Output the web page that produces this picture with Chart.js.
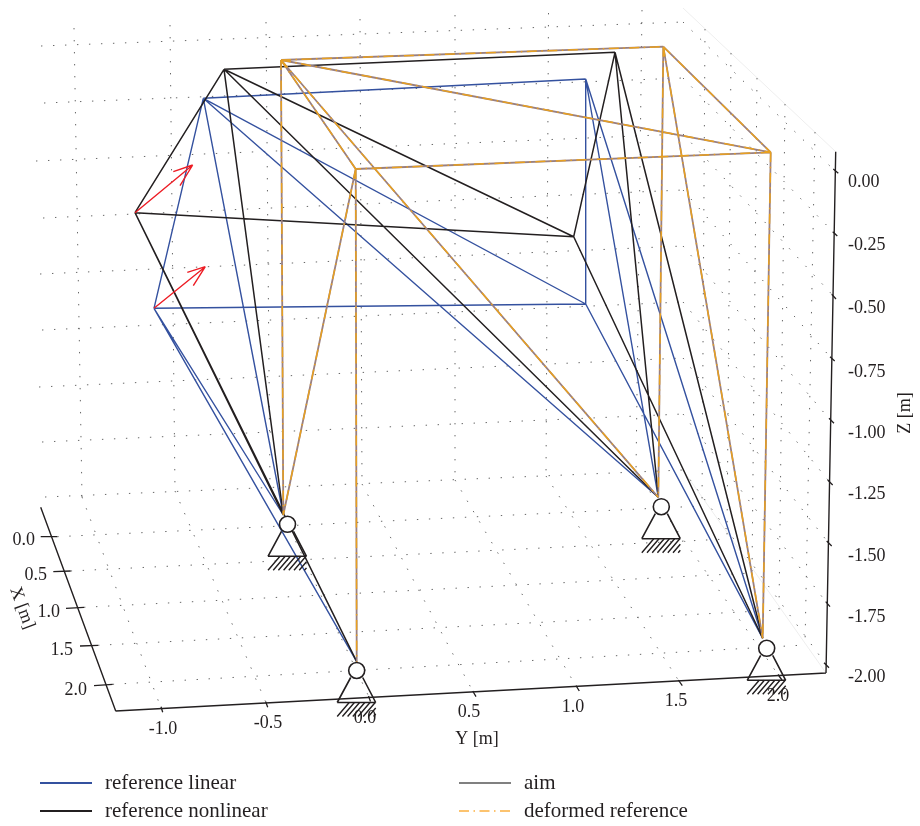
<!DOCTYPE html>
<html>
<head>
<meta charset="utf-8">
<title>Truss reference</title>
<script src="https://cdn.jsdelivr.net/npm/chart.js@4/dist/chart.umd.min.js"></script>
<style>
  html, body { margin: 0; padding: 0; background: #fff; }
  canvas { display: block; }
</style>
</head>
<body>
<canvas id="truss" width="920" height="826"></canvas>
<script>
// The source is a 3D view, so every value below is read off the picture
// in view units (a flat x/y space, 920 x 826, y downwards).

// four top nodes of each structure, in view units
const linearNodes = [[203.3, 98.3], [585.7, 79], [585.7, 304], [154, 308.3]];
const nonlinearNodes = [[224, 69.3], [615, 52.3], [573.7, 236.7], [135, 212.7]];
const aimNodes = [[281, 60], [663.3, 46.7], [770.7, 152.3], [355.7, 169]];
const deformedNodes = [[281, 60], [663.3, 46.7], [770.7, 152.3], [355.7, 169]];
// where the bars meet above each support
const barEnds = [[283.3, 515], [356.7, 661.7], [658.3, 497.3], [762.7, 638.3]];
// node index pairs: 0-3 top nodes, 4-7 bar ends
const members = [[0, 1], [1, 2], [2, 3], [3, 0], [0, 2], [0, 4], [3, 5], [3, 4], [1, 6], [1, 7], [2, 7], [0, 6]];

const supportCentres = [[287.5, 524.3], [356.7, 670.5], [661.3, 506.7], [766.7, 648.3]];

const loadArrows = [
  { from: [135, 212.7], tip: [192.7, 165], barbs: [[173.3, 171.7], [180, 185.7]] },
  { from: [154, 308.3], tip: [205.3, 266.7], barbs: [[187.3, 272.3], [193.3, 285.7]] },
];

// axes
const xTickLabels = ['0.0', '0.5', '1.0', '1.5', '2.0'];
const yTickLabels = ['-1.0', '-0.5', '0.0', '0.5', '1.0', '1.5', '2.0'];
const zTickLabels = ['0.00', '-0.25', '-0.50', '-0.75', '-1.00', '-1.25', '-1.50', '-1.75', '-2.00'];

const xAxisLine = [[40.7, 507.3], [115.7, 711]];
const yAxisLine = [[115.7, 711], [826, 673]];
const zAxisLine = [[835.7, 151.7], [826, 673]];
const xTicks = [[[40.7, 536.7], [57.3, 536.7]], [[53.3, 571.7], [70.7, 571]], [[66, 608.3], [84, 607.3]], [[80, 646], [98, 645.3]], [[94, 685.7], [112.7, 684.3]]];
const yTicks = [[[161, 706.7], [162.7, 712.3]], [[265.7, 701.7], [267.7, 707.3]], [[368.5, 696], [370.5, 701.5]], [[472.7, 691], [476, 696.7]], [[576, 685.7], [579.3, 691]], [[678.3, 680], [682.3, 685.7]], [[778, 674.5], [782, 680]]];
const zTicks = [[[833.3, 169], [838.3, 173.3]], [[832.7, 231.7], [837.3, 236]], [[831.7, 294.3], [836, 299]], [[830, 356.7], [834.7, 361]], [[829, 418.3], [834, 423.3]], [[827.7, 480], [832.7, 485]], [[826.7, 541], [831.7, 546]], [[825.7, 601.7], [830, 606.7]], [[824, 662.7], [829, 667.7]]];

// dotted grid: back wall, floor and right wall
const backWallLevels = [[[41, 46], [683, 22]], [[44, 103], [683, 78]], [[36, 161], [683, 134]], [[43, 218], [683, 190]], [[40, 274], [683, 246]], [[42, 330], [683, 302]], [[39, 387], [683, 358]], [[42, 442], [683, 414]], [[45, 497], [683, 470]]];
const backWallColumns = [[[74, 28], [82, 497]], [[170, 25], [175, 491]], [[266, 22], [270, 487]], [[360, 19], [362, 484]], [[455, 15], [455, 480]], [[548.5, 13], [546, 476]], [[642, 10], [636, 472]]];
const floorColumns = [[[82, 497], [161, 708]], [[175, 491], [265.7, 702]], [[270, 487], [368.5, 696]], [[362, 484], [472.7, 691]], [[455, 480], [576, 686]], [[546, 476], [678.3, 680]], [[636, 472], [778, 674.5]]];
const floorRows = [[[57.3, 536.7], [702, 506]], [[70.7, 571], [727, 539]], [[84, 607.3], [752, 573]], [[98, 645.3], [779, 610]], [[112.7, 684.3], [805, 645]]];
const rightWallLevels = [[[683, 22], [835, 171]], [[683, 78], [835, 233.8]], [[683, 134], [834, 296.6]], [[683, 190], [832, 359]], [[683, 246], [831, 421]], [[683, 302], [830, 482.5]], [[683, 358], [829, 543.5]], [[683, 414], [827.5, 604]], [[683, 470], [826.5, 665]]];
const rightWallColumns = [[[705, 29], [702, 506]], [[731, 53], [727, 539]], [[757, 78], [752, 573]], [[785, 104], [779, 610]], [[815, 132], [805, 645]]];
const faintEdges = [[[683, 8], [835.7, 151.7]], [[683, 470], [826, 673]]];

const legendLabels = ['reference linear', 'reference nonlinear', 'aim', 'deformed reference'];
const legendSamples = [[[40, 783], [92, 783]], [[40, 811], [92, 811]], [[459, 783], [511, 783]], [[459, 811], [511, 811]]];

const BLUE = '#34519f';
const BLACK = '#231f20';
const GREY = '#9a8080';
const ORANGE = '#e8a020';
const RED = '#ed1c24';
const DOT = '#666666';
const DASHDOT = [10, 4.5, 1.5, 4.5];

// turns a list of segments into one point list with gaps between them
function segments(list) {
  const pts = [];
  list.forEach((seg) => {
    seg.forEach((p) => pts.push({ x: p[0], y: p[1] }));
    pts.push({ x: NaN, y: NaN });
  });
  return pts;
}

function frame(nodes) {
  const all = nodes.concat(barEnds);
  return members.map((m) => [all[m[0]], all[m[1]]]);
}

function line(list, color, width, dash) {
  return {
    data: segments(list),
    showLine: true,
    borderColor: color,
    borderWidth: width,
    borderDash: dash || [],
    pointRadius: 0,
    pointHoverRadius: 0,
    spanGaps: false,
    clip: false,
  };
}

function arrowSegments() {
  const out = [];
  loadArrows.forEach((a) => {
    out.push([a.from, a.tip]);
    a.barbs.forEach((b) => out.push([b, a.tip]));
  });
  return out;
}

// triangle and hatching under each pin
function supportSegments() {
  const out = [];
  supportCentres.forEach(([cx, cy]) => {
    out.push([[cx - 6, cy + 7], [cx - 19.5, cy + 32]]);
    out.push([[cx + 6, cy + 7], [cx + 19, cy + 32]]);
    out.push([[cx - 19.5, cy + 32], [cx + 19, cy + 32]]);
  });
  return out;
}

function hatchSegments() {
  const out = [];
  supportCentres.forEach(([cx, cy]) => {
    for (let i = 0; i < 8; i++) {
      const x0 = cx - 19.5 + i * 5.2;
      const x1 = Math.min(x0 + 12, cx + 19);
      out.push([[x0, cy + 46], [x1, cy + 46 - (x1 - x0) * 14 / 12]]);
    }
  });
  return out;
}

const layers = [
  line(faintEdges, '#eeeeee', 1),
  line(backWallLevels, DOT, 1, [1.4, 10.6]),
  line(backWallColumns, DOT, 1, [1.4, 10.6]),
  line(floorColumns, DOT, 1, [1.4, 10.6]),
  line(floorRows, DOT, 1, [1.4, 10.6]),
  line(rightWallLevels, DOT, 1, [1.4, 10.6]),
  line(rightWallColumns, DOT, 1, [1.4, 10.6]),
  line([xAxisLine, yAxisLine, zAxisLine], BLACK, 1.4),
  line(xTicks.concat(yTicks, zTicks), BLACK, 1.3),
  line(frame(linearNodes), BLUE, 1.4),
  line(frame(nonlinearNodes), BLACK, 1.5),
  line(frame(aimNodes), GREY, 1.8),
  line(frame(deformedNodes), ORANGE, 1.5, DASHDOT),
  line(arrowSegments(), RED, 1.4),
  line(supportSegments(), BLACK, 1.6),
  line(hatchSegments(), BLACK, 1.4),
  {
    data: supportCentres.map(([x, y]) => ({ x, y })),
    showLine: false,
    pointRadius: 8,
    pointHoverRadius: 8,
    pointBackgroundColor: '#fff',
    pointBorderColor: BLACK,
    pointBorderWidth: 1.6,
    clip: false,
  },
  line([legendSamples[0]], BLUE, 1.8),
  line([legendSamples[1]], BLACK, 1.8),
  line([legendSamples[2]], '#808080', 1.8),
  line([legendSamples[3]], '#fbb040', 1.6, DASHDOT),
].map((d, i) => ({ ...d, order: -i }));

// tick labels, titles and legend text, anchored through the chart scales
const xLabelAt = [[35, 540], [47, 575], [60, 612], [73, 650], [87, 690]];
const yLabelAt = [[163, 729], [268, 723], [365, 718], [469, 712], [573, 707], [676, 701], [778, 696]];
const zLabelAt = [[848, 182], [848, 245], [848, 308], [848, 372], [848, 433], [848, 494], [848, 556], [848, 617], [848, 677]];
const legendTextAt = [[105, 783], [105, 811], [524, 783], [524, 811]];

const textPlugin = {
  id: 'viewText',
  afterDatasetsDraw(chart) {
    const { ctx, scales } = chart;
    const put = (text, p, align, size, angle) => {
      ctx.save();
      ctx.translate(scales.x.getPixelForValue(p[0]), scales.y.getPixelForValue(p[1]));
      if (angle) ctx.rotate(angle);
      ctx.font = size + 'px "Liberation Serif", serif';
      ctx.fillStyle = BLACK;
      ctx.textAlign = align;
      ctx.textBaseline = 'middle';
      ctx.fillText(text, 0, 0);
      ctx.restore();
    };
    xTickLabels.forEach((t, i) => put(t, xLabelAt[i], 'right', 18));
    yTickLabels.forEach((t, i) => put(t, yLabelAt[i], 'center', 18));
    zTickLabels.forEach((t, i) => put(t, zLabelAt[i], 'left', 18));
    put('X [m]', [22, 608], 'center', 18, 70 * Math.PI / 180);
    put('Y [m]', [477, 739], 'center', 18);
    put('Z [m]', [905, 413], 'center', 18, -Math.PI / 2);
    legendLabels.forEach((t, i) => put(t, legendTextAt[i], 'left', 21));
  },
};

new Chart(document.getElementById('truss').getContext('2d'), {
  type: 'scatter',
  data: { datasets: layers },
  options: {
    responsive: false,
    animation: false,
    events: [],
    layout: { padding: 0, autoPadding: false },
    scales: {
      x: { type: 'linear', min: 0, max: 920, display: false },
      y: { type: 'linear', min: 0, max: 826, reverse: true, display: false },
    },
    plugins: { legend: { display: false }, tooltip: { enabled: false } },
  },
  plugins: [textPlugin],
});
</script>
</body>
</html>
